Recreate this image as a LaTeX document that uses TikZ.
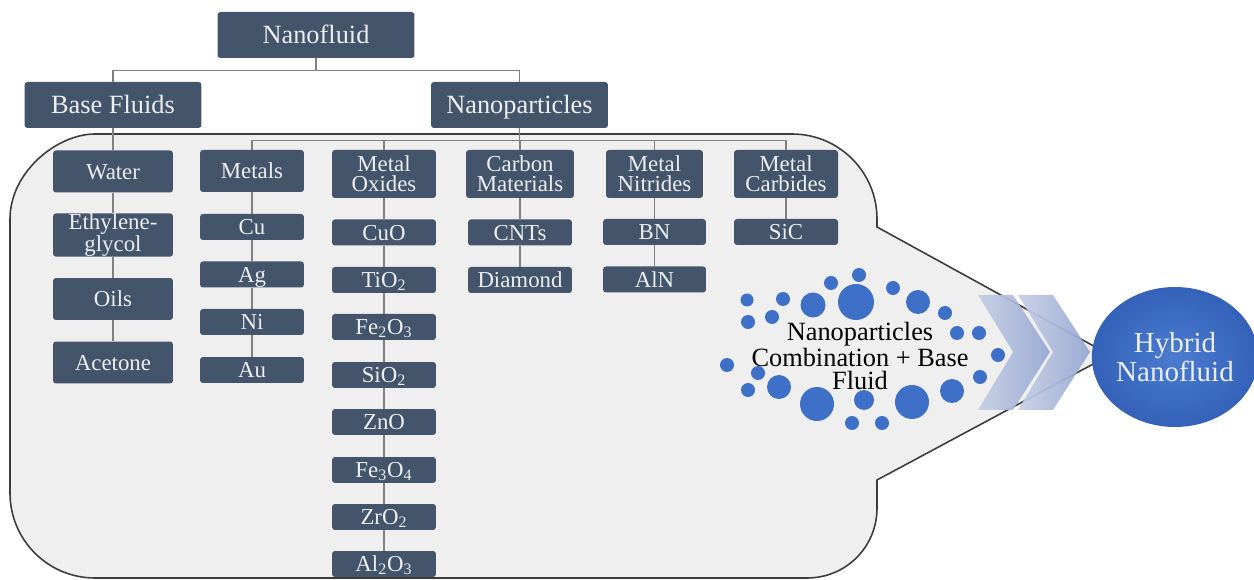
\documentclass[tikz,border=0pt]{standalone}
\usepackage{fontspec}
\setmainfont{Liberation Serif}
\usepackage{tikz}
\usetikzlibrary{shapes.geometric}

\definecolor{boxfill}{RGB}{68,84,106}
\definecolor{boxtext}{RGB}{236,238,241}
\definecolor{panelfill}{RGB}{239,239,239}
\definecolor{panelline}{RGB}{60,60,60}
\definecolor{conngray}{RGB}{128,128,128}
\definecolor{dotblue}{RGB}{62,112,200}
\definecolor{chevleft}{RGB}{198,206,228}
\definecolor{chevright}{RGB}{148,166,210}

\begin{document}
\begin{tikzpicture}[x=0.02cm,y=-0.02cm]
      \tikzset{
        box/.style={fill=boxfill,text=boxtext,rounded corners=1.7pt,align=center,inner sep=0pt},
        oneline/.style={text height=9.6pt,text depth=1pt},
        headbox/.style={box,text height=11pt,text depth=1.1pt,minimum height=0.92cm,font=\fontsize{15}{13}\selectfont},
        bfbox/.style={box,minimum width=2.4cm,minimum height=0.84cm,font=\fontsize{13}{11.3}\selectfont},
        catbox/.style={box,minimum width=2.08cm,minimum height=0.96cm,font=\fontsize{13}{11.3}\selectfont},
        leafbox/.style={box,oneline,minimum width=2.08cm,minimum height=0.52cm,font=\fontsize{13}{11.3}\selectfont},
        conn/.style={draw=conngray,line width=0.9pt},
        panel/.style={fill=panelfill,draw=panelline,line width=0.9pt},
        dot/.style={fill=dotblue},
        chevron/.style={left color=chevleft,right color=chevright,opacity=0.92}
      }
      \useasboundingbox (0,0) rectangle (1254,580);

      % callout panel
      \draw[panel] (10,400) -- (10,219) .. controls (10,172) and (57,134) .. (95,134)
        -- (792,134) .. controls (839,134) and (877,172) .. (877,219)
        -- (877,227) -- (1110,355) -- (877,480)
        -- (877,508) .. controls (877,547) and (846,578) .. (807,578)
        -- (95,578) .. controls (48,578) and (10,540) .. (10,493) -- cycle;

      \node[headbox,minimum width=3.94cm] (nf) at (316,35) {Nanofluid};
      \node[headbox,minimum width=3.54cm] (bf) at (113,105) {Base Fluids};
      \node[headbox,minimum width=3.54cm] (np) at (519.5,105) {Nanoparticles};

      \node[bfbox,oneline] (b1) at (113,171.5) {Water};
      \node[bfbox,font=\fontsize{13}{9.8}\selectfont] (b2) at (113,235) {Ethylene-\\glycol};
      \node[bfbox,oneline] (b3) at (113,299) {Oils};
      \node[bfbox,oneline] (b4) at (113,362.5) {Acetone};

      \node[catbox,oneline,minimum height=0.84cm] (m0) at (252,171) {Metals};
      \node[leafbox] (m1) at (252,227) {Cu};
      \node[leafbox] (m2) at (252,274.5) {Ag};
      \node[leafbox] (m3) at (252,322) {Ni};
      \node[leafbox] (m4) at (252,370) {Au};

      \node[catbox] (o0) at (384,174) {Metal\\Oxides};
      \node[leafbox] (o1) at (384,232.5) {CuO};
      \node[leafbox] (o2) at (384,280) {TiO\textsubscript{2}};
      \node[leafbox] (o3) at (384,327) {Fe\textsubscript{2}O\textsubscript{3}};
      \node[leafbox] (o4) at (384,375) {SiO\textsubscript{2}};
      \node[leafbox] (o5) at (384,422) {ZnO};
      \node[leafbox] (o6) at (384,470) {Fe\textsubscript{3}O\textsubscript{4}};
      \node[leafbox] (o7) at (384,517) {ZrO\textsubscript{2}};
      \node[leafbox] (o8) at (384,564) {Al\textsubscript{2}O\textsubscript{3}};

      \node[catbox,minimum width=2.16cm] (c0) at (520,174) {Carbon\\Materials};
      \node[leafbox] (c1) at (520,232.5) {CNTs};
      \node[leafbox] (c2) at (520,280) {Diamond};

      \node[catbox,minimum width=1.94cm] (n0) at (654.5,174) {Metal\\Nitrides};
      \node[leafbox,minimum width=2.06cm] (n1) at (654.5,232) {BN};
      \node[leafbox,minimum width=2.06cm] (n2) at (654.5,279.5) {AlN};

      \node[catbox] (k0) at (786,174) {Metal\\Carbides};
      \node[leafbox] (k1) at (786,232) {SiC};

      \draw[conn] (nf.south) -- ++(0,12) -| (bf.north);
      \draw[conn] (nf.south) -- ++(0,12) -| (np.north);
      \draw[conn] (np.south) -- ++(0,12) -| (m0.north);
      \draw[conn] (np.south) -- ++(0,12) -| (o0.north);
      \draw[conn] (np.south) -- ++(0,12) -| (c0.north);
      \draw[conn] (np.south) -- ++(0,12) -| (n0.north);
      \draw[conn] (np.south) -- ++(0,12) -| (k0.north);
      \draw[conn] (bf) -- (b1);
      \draw[conn] (b1) -- (b2);
      \draw[conn] (b2) -- (b3);
      \draw[conn] (b3) -- (b4);
      \draw[conn] (m0) -- (m1);
      \draw[conn] (m1) -- (m2);
      \draw[conn] (m2) -- (m3);
      \draw[conn] (m3) -- (m4);
      \draw[conn] (o0) -- (o1);
      \draw[conn] (o1) -- (o2);
      \draw[conn] (o2) -- (o3);
      \draw[conn] (o3) -- (o4);
      \draw[conn] (o4) -- (o5);
      \draw[conn] (o5) -- (o6);
      \draw[conn] (o6) -- (o7);
      \draw[conn] (o7) -- (o8);
      \draw[conn] (c0) -- (c1);
      \draw[conn] (c1) -- (c2);
      \draw[conn] (n0) -- (n1);
      \draw[conn] (n1) -- (n2);
      \draw[conn] (k0) -- (k1);

      % particles round the mixture
      \fill[dot] (859,275) circle[radius=7];
      \fill[dot] (831,283) circle[radius=7];
      \fill[dot] (893,288) circle[radius=7];
      \fill[dot] (747,300) circle[radius=6.5];
      \fill[dot] (783,299) circle[radius=7];
      \fill[dot] (813,305) circle[radius=12.5];
      \fill[dot] (856,302) circle[radius=18];
      \fill[dot] (918,302) circle[radius=12];
      \fill[dot] (945,313) circle[radius=7];
      \fill[dot] (748,322) circle[radius=7];
      \fill[dot] (772,317) circle[radius=7];
      \fill[dot] (957,333) circle[radius=7];
      \fill[dot] (979,333) circle[radius=7];
      \fill[dot] (998,355) circle[radius=7];
      \fill[dot] (727,365) circle[radius=7];
      \fill[dot] (758,373) circle[radius=7];
      \fill[dot] (980,377) circle[radius=7];
      \fill[dot] (748,390) circle[radius=7];
      \fill[dot] (779,387) circle[radius=12];
      \fill[dot] (952,391) circle[radius=12];
      \fill[dot] (817,404) circle[radius=17];
      \fill[dot] (864,400) circle[radius=10];
      \fill[dot] (912,402) circle[radius=17];
      \fill[dot] (852,423) circle[radius=7];
      \fill[dot] (882,423) circle[radius=7];

      \node[font=\fontsize{15}{12.8}\selectfont,align=center,text=black] (mix) at (860,356) {Nanoparticles\\Combination + Base\\Fluid};

      % arrows into the result
      \shade[chevron] (978,295) -- (1013,295) -- (1050,352) -- (1013,410) -- (978,410) -- (1013,352) -- cycle;
      \shade[chevron] (1018,295) -- (1053,295) -- (1090,352) -- (1053,410) -- (1018,410) -- (1053,352) -- cycle;

      \node[ellipse,minimum width=3.16cm,minimum height=2.8cm,inner sep=0pt,
        inner color={rgb,255:red,74;green,124;blue,208},outer color={rgb,255:red,52;green,98;blue,184},
        text=boxtext,align=center,font=\fontsize{16.5}{14.2}\selectfont] (hn) at (1175,357) {Hybrid\\Nanofluid};
   \end{tikzpicture}
\end{document}
